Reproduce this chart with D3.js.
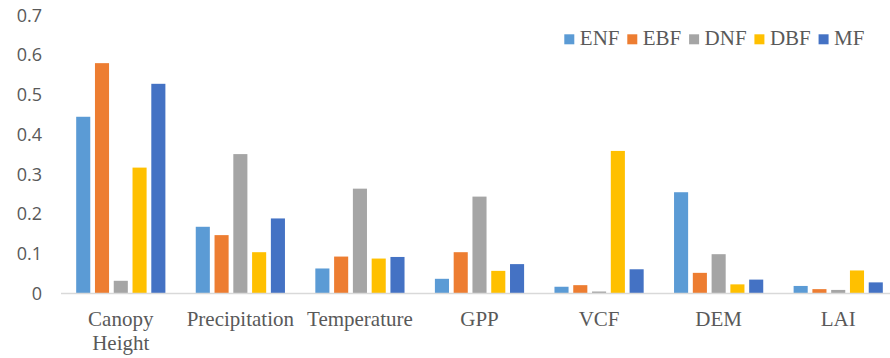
<!DOCTYPE html>
<html>
<head>
<meta charset="utf-8">
<script src="https://cdn.jsdelivr.net/npm/d3@7/dist/d3.min.js"></script>
<style>
  html, body { margin: 0; padding: 0; background: #fff; }
  svg { display: block; }
</style>
</head>
<body>
<svg id="chart" width="890" height="358"></svg>
<script>
// Variable importance by forest type
const categories = [["Canopy", "Height"], ["Precipitation"], ["Temperature"], ["GPP"], ["VCF"], ["DEM"], ["LAI"]];
const seriesNames = ["ENF", "EBF", "DNF", "DBF", "MF"];
const seriesColors = ["#5B9BD5", "#ED7D31", "#A5A5A5", "#FFC000", "#4472C4"];
const ENF = [0.445, 0.168, 0.063, 0.037, 0.017, 0.255, 0.019];
const EBF = [0.580, 0.147, 0.093, 0.104, 0.021, 0.052, 0.011];
const DNF = [0.032, 0.351, 0.264, 0.244, 0.005, 0.099, 0.009];
const DBF = [0.317, 0.104, 0.088, 0.057, 0.359, 0.023, 0.058];
const MF  = [0.528, 0.189, 0.092, 0.074, 0.061, 0.035, 0.028];
const yTicks = [0, 0.1, 0.2, 0.3, 0.4, 0.5, 0.6, 0.7];

const seriesValues = [ENF, EBF, DNF, DBF, MF];
const catKeys = categories.map(c => c.join(" "));

const svg = d3.select("#chart");
const textColor = "#595959";
const serif = "Liberation Serif";

const y = d3.scaleLinear().domain([0, 0.7]).range([293.5, 15.5]);
const x0 = d3.scaleBand().domain(catKeys).range([61, 898])
  .paddingInner(0.254).paddingOuter(0.127);
const x1 = d3.scaleBand().domain(seriesNames).range([0, x0.bandwidth()])
  .paddingInner(0.25).paddingOuter(0);

// Bars
const groups = svg.append("g").selectAll("g")
  .data(catKeys)
  .join("g")
  .attr("transform", d => `translate(${x0(d)},0)`);

groups.selectAll("rect")
  .data((d, i) => seriesNames.map((s, j) => ({ s, v: seriesValues[j][i], c: seriesColors[j] })))
  .join("rect")
  .attr("x", d => x1(d.s))
  .attr("width", x1.bandwidth())
  .attr("y", d => y(d.v))
  .attr("height", d => y(0) - y(d.v))
  .attr("fill", d => d.c);

// Category axis line
svg.append("line")
  .attr("x1", 61).attr("x2", 890)
  .attr("y1", y(0)).attr("y2", y(0))
  .attr("stroke", "#D9D9D9").attr("stroke-width", 1.3);

// Value axis labels
const yAxis = d3.axisLeft(y).tickValues(yTicks)
  .tickFormat(d => d === 0 ? "0" : d3.format(".1f")(d))
  .tickSize(0).tickPadding(0);
const yg = svg.append("g").attr("transform", "translate(42,0)").call(yAxis)
  .attr("font-family", "Open Sans").attr("font-size", 18);
yg.select(".domain").remove();
yg.selectAll("text").attr("fill", textColor);

// Category labels (serif, possibly two lines)
const xl = svg.append("g")
  .attr("font-family", serif).attr("font-size", 21)
  .selectAll("text")
  .data(categories)
  .join("text")
  .attr("x", (d, i) => x0(catKeys[i]) + x0.bandwidth() / 2)
  .attr("y", 326)
  .attr("text-anchor", "middle")
  .attr("fill", textColor);
xl.selectAll("tspan")
  .data(d => d)
  .join("tspan")
  .attr("x", function () { return d3.select(this.parentNode).attr("x"); })
  .attr("dy", (d, i) => i === 0 ? 0 : 24)
  .text(d => d);

// Legend
const legend = svg.append("g").attr("transform", "translate(564.3,45)")
  .attr("font-family", serif).attr("font-size", 21);
let lx = 0;
seriesNames.forEach((name, i) => {
  const item = legend.append("g").attr("transform", `translate(${lx},0)`);
  item.append("rect")
    .attr("x", 0).attr("y", -10.7).attr("width", 10).attr("height", 10)
    .attr("fill", seriesColors[i]);
  const t = item.append("text")
    .attr("x", 15.5).attr("y", 0)
    .attr("fill", textColor)
    .text(name);
  lx += 15.5 + t.node().getComputedTextLength() + 7.8;
});
</script>
</body>
</html>
